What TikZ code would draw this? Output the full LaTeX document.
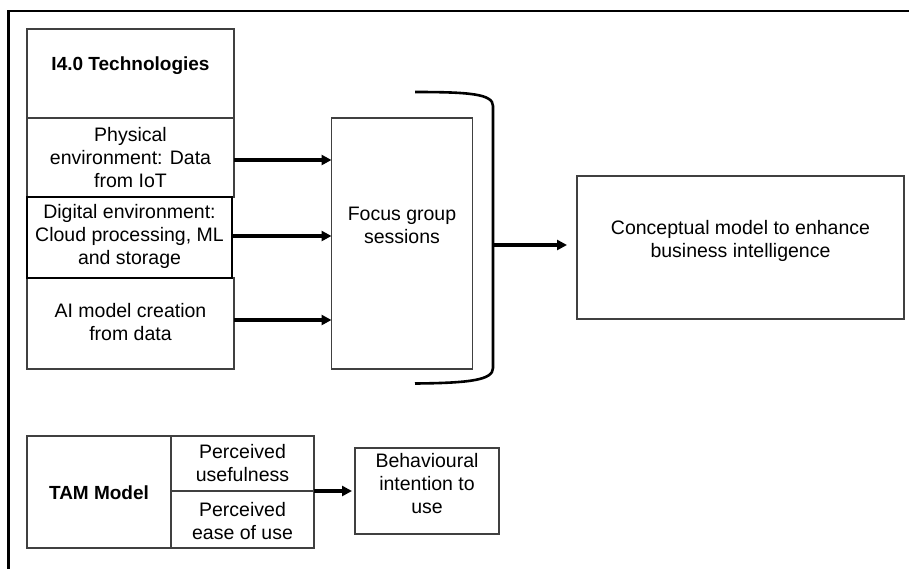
\documentclass[tikz,border=0pt]{standalone}
\usepackage{fontspec}
\setmainfont{Liberation Sans}
\usetikzlibrary{arrows.meta}
\begin{document}
\begin{tikzpicture}[x=1pt,y=-1pt,
  box/.style={draw=black!75,line width=1.2pt,rectangle,inner sep=0pt,outer sep=0pt},
  txt/.style={align=center,inner sep=0pt,text=black,font=\fontsize{19.5}{23}\selectfont},
  btxt/.style={txt,font=\fontsize{19}{23}\selectfont\bfseries},
  arr/.style={line width=3.3pt,-{Triangle[length=10pt,width=10pt]}},
  brack/.style={line width=2.6pt}]
\useasboundingbox (0,0) rectangle (909,568);
% outer frame (left and top edges visible)
\draw[line width=2.2pt] (8.5,570) -- (8.5,11) -- (912,11);
% I4.0 stack
\node[box,minimum width=207pt,minimum height=89pt] (top) at (130.5,73.5) {};
\node[box,minimum width=207pt,minimum height=79pt] (phys) at (130.5,157.5) {};
\node[box,minimum width=207pt,minimum height=91pt] (ai) at (130.5,323.5) {};
\node[box,draw=black,line width=1.6pt,minimum width=205pt,minimum height=81pt] (dig) at (129.5,237.5) {};
\node[btxt] (ttop) at (130.5,66) {I4.0 Technologies};
\node[txt] (tphys) at (130.5,158) {Physical\\environment: Data\\from IoT};
\node[txt] (tdig) at (129.5,236) {Digital environment:\\Cloud processing, ML\\and storage};
\node[txt] (tai) at (130.5,322) {AI model creation\\from data};
% focus group
\node[box,minimum width=141pt,minimum height=251pt] (focus) at (402,243.5) {};
\node[txt] (tfocus) at (402,225) {Focus group\\sessions};
% conceptual model
\node[box,minimum width=327pt,minimum height=143pt] (conc) at (740.5,247.5) {};
\node[txt] (tconc) at (740.5,241) {Conceptual model to enhance\\business intelligence};
% arrows into focus
\draw[arr] ([yshift=-2.5pt]phys.east) -- ([yshift=-2.5pt]phys.east -| focus.west);
\draw[arr] ([yshift=1.5pt]dig.east) -- ([yshift=1.5pt]dig.east -| focus.west);
\draw[arr] ([yshift=3.5pt]ai.east) -- ([yshift=3.5pt]ai.east -| focus.west);
% bracket
\draw[brack] (415,92) .. controls (470,92) and (493,94) .. (493,106) -- (493,368) .. controls (493,380) and (470,383) .. (415,383.5);
\coordinate (brk) at (493,245);
\draw[arr,shorten >=10pt] (brk) -- (brk -| conc.west);
% TAM
\node[box,minimum width=144pt,minimum height=112pt] (tam) at (99,492) {};
\node[box,minimum width=143pt,minimum height=55pt] (pu) at (242.5,463.5) {};
\node[box,minimum width=143pt,minimum height=57pt] (pe) at (242.5,519.5) {};
\node[btxt] (ttam) at (99,493) {TAM Model};
\node[txt] (tpu) at (242.5,463.5) {Perceived\\usefulness};
\node[txt] (tpe) at (242.5,521) {Perceived\\ease of use};
\node[box,minimum width=144pt,minimum height=86pt] (beh) at (427,491) {};
\node[txt] (tbeh) at (427,483.5) {Behavioural\\intention to\\use};
\draw[arr,shorten >=3pt] (pu.south east) -- (pu.south east -| beh.west);
\end{tikzpicture}
\end{document}
